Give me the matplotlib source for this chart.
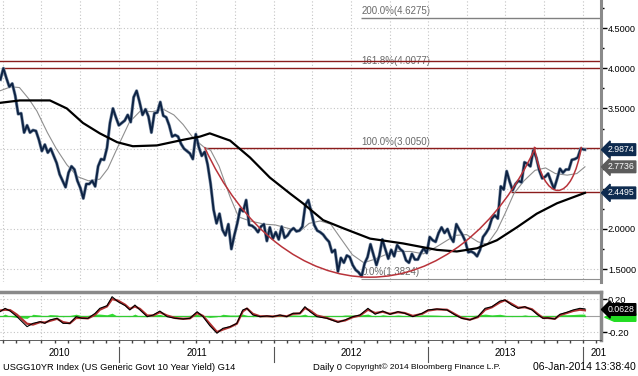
import numpy as np
import pandas as pd
import matplotlib
matplotlib.use('Agg')
import matplotlib.pyplot as plt
import matplotlib.dates as mdates
from matplotlib.patches import Arc, Polygon
from matplotlib.transforms import Affine2D, blended_transform_factory

plt.rcParams['font.family'] = ['Liberation Sans', 'DejaVu Sans']

# weekly closes of the 10y generic yield (Fridays from 26-Mar-2010)
close_2010 = [3.86, 4.00, 3.88, 3.77, 3.81, 3.66, 3.43, 3.44, 3.20, 3.29,
              3.20, 3.23, 3.22, 3.11, 2.97, 3.05, 2.95, 3.00, 2.91, 2.82,
              2.68, 2.60, 2.52, 2.70, 2.78, 2.74, 2.60, 2.51, 2.38, 2.56,
              2.56, 2.60, 2.53, 2.78, 2.87, 2.86, 3.01, 3.32, 3.50, 3.39, 3.29]
close_2011 = [3.32, 3.35, 3.42, 3.33, 3.64, 3.72, 3.58, 3.42, 3.49, 3.40,
              3.20, 3.44, 3.45, 3.58, 3.41, 3.39, 3.29, 3.15, 3.17, 3.15,
              3.06, 3.00, 2.97, 2.94, 2.87, 3.18, 3.02, 2.91, 2.96, 2.80,
              2.56, 2.24, 2.07, 2.19, 1.99, 1.92, 2.06, 1.75, 1.92, 2.07,
              2.25, 2.22, 2.36, 2.05, 2.04, 2.01, 1.96, 2.03, 2.06, 1.85, 2.02, 1.88]
close_2012 = [1.96, 1.87, 2.03, 1.89, 1.92, 1.98, 2.01, 1.97, 1.98, 2.03,
              2.30, 2.36, 2.21, 2.05, 1.98, 1.96, 1.93, 1.88, 1.84, 1.71,
              1.74, 1.47, 1.64, 1.58, 1.67, 1.65, 1.55, 1.49, 1.46, 1.41,
              1.57, 1.65, 1.81, 1.68, 1.55, 1.67, 1.87, 1.75, 1.63, 1.74,
              1.66, 1.80, 1.75, 1.72, 1.61, 1.58, 1.69, 1.62, 1.62, 1.70, 1.76, 1.70]
close_2013 = [1.90, 1.86, 1.84, 1.95, 2.02, 1.95, 2.00, 1.90, 1.84, 2.06,
              1.99, 1.93, 1.85, 1.71, 1.72, 1.70, 1.66, 1.74, 1.90, 1.95,
              2.01, 2.13, 2.17, 2.13, 2.53, 2.49, 2.72, 2.59, 2.48, 2.56,
              2.60, 2.58, 2.83, 2.81, 2.78, 2.98, 2.89, 2.73, 2.63, 2.65,
              2.69, 2.59, 2.50, 2.62, 2.75, 2.70, 2.74, 2.74, 2.86, 2.87, 2.89, 3.00]
close_2014 = [2.99]
last_date = '2014-01-06'
last_close = 2.9874

# moving averages
ma_fast_dates = ['2010-03-25', '2010-04-20', '2010-05-10', '2010-06-01', '2010-06-20',
                 '2010-07-15', '2010-08-05', '2010-08-30', '2010-09-25', '2010-10-20',
                 '2010-11-16', '2010-12-05', '2010-12-31', '2011-01-25', '2011-02-20',
                 '2011-03-20', '2011-04-15', '2011-05-10', '2011-06-01', '2011-06-25',
                 '2011-07-20', '2011-08-05', '2011-08-25', '2011-09-20', '2011-10-10',
                 '2011-11-06', '2011-12-10', '2012-01-05', '2012-02-10', '2012-03-05',
                 '2012-03-25', '2012-04-20', '2012-05-15', '2012-06-08', '2012-07-05',
                 '2012-08-01', '2012-08-25', '2012-10-10', '2012-11-20', '2012-12-20',
                 '2013-01-21', '2013-03-05', '2013-04-01', '2013-04-28', '2013-05-20',
                 '2013-06-12', '2013-07-01', '2013-07-22', '2013-08-15', '2013-09-10',
                 '2013-10-05', '2013-10-28', '2013-11-25', '2013-12-18', '2014-01-06']
ma_fast = [3.72, 3.77, 3.76, 3.62, 3.47, 3.20, 3.00, 2.80, 2.65, 2.60,
           2.62, 2.75, 3.05, 3.33, 3.47, 3.46, 3.49, 3.42, 3.30, 3.13,
           3.02, 2.98, 2.78, 2.40, 2.15, 2.10, 2.06, 2.05, 2.00, 1.98,
           2.07, 2.10, 2.06, 1.88, 1.68, 1.58, 1.62, 1.72, 1.72, 1.69,
           1.78, 1.92, 1.93, 1.84, 1.81, 1.98, 2.19, 2.44, 2.60, 2.73,
           2.76, 2.69, 2.67, 2.69, 2.7736]
ma_slow_dates = ['2010-03-25', '2010-05-11', '2010-07-21', '2010-08-30', '2010-10-07',
                 '2010-11-16', '2010-12-27', '2011-02-02', '2011-03-31', '2011-06-01',
                 '2011-07-11', '2011-08-03', '2011-09-20', '2011-11-06', '2011-12-23',
                 '2012-02-09', '2012-03-10', '2012-04-27', '2012-06-13', '2012-08-16',
                 '2012-11-02', '2013-01-21', '2013-03-09', '2013-04-26', '2013-06-12',
                 '2013-07-29', '2013-09-14', '2013-11-01', '2014-01-06']
ma_slow = [3.57, 3.60, 3.60, 3.50, 3.32, 3.19, 3.08, 3.03, 3.04, 3.11,
           3.15, 3.19, 3.10, 2.89, 2.64, 2.44, 2.32, 2.11, 2.01, 1.88,
           1.82, 1.74, 1.72, 1.76, 1.86, 2.02, 2.19, 2.32, 2.4495]

# oscillator panel
osc_dates = ['2010-03-25', '2010-04-06', '2010-04-18', '2010-05-04', '2010-05-28',
             '2010-06-11', '2010-06-28', '2010-07-09', '2010-07-21', '2010-08-07',
             '2010-08-21', '2010-09-06', '2010-09-21', '2010-10-05', '2010-10-19',
             '2010-11-05', '2010-11-16', '2010-12-03', '2010-12-15', '2010-12-29',
             '2011-01-15', '2011-01-26', '2011-02-07', '2011-02-19', '2011-03-08',
             '2011-03-22', '2011-04-07', '2011-04-24', '2011-05-13', '2011-06-01',
             '2011-06-17', '2011-07-04', '2011-07-18', '2011-08-03', '2011-08-20',
             '2011-09-03', '2011-09-20', '2011-10-06', '2011-10-20', '2011-10-30',
             '2011-11-13', '2011-11-30', '2011-12-16', '2011-12-30', '2012-01-16',
             '2012-02-01', '2012-02-16', '2012-03-03', '2012-03-15', '2012-03-27',
             '2012-04-12', '2012-05-06', '2012-06-01', '2012-06-18', '2012-07-06',
             '2012-07-23', '2012-08-11', '2012-08-28', '2012-09-15', '2012-10-02',
             '2012-10-21', '2012-11-06', '2012-11-25', '2012-12-17', '2012-12-31',
             '2013-01-21', '2013-02-14', '2013-03-05', '2013-03-21', '2013-04-09',
             '2013-04-28', '2013-05-15', '2013-05-31', '2013-06-19', '2013-07-01',
             '2013-07-17', '2013-08-01', '2013-08-17', '2013-09-03', '2013-09-17',
             '2013-09-29', '2013-10-10', '2013-10-27', '2013-11-08', '2013-11-24',
             '2013-12-09', '2013-12-25', '2014-01-06']
osc_fast = [0.046, 0.087, 0.054, -0.014, -0.135, -0.095, -0.075, -0.095, -0.054, -0.034,
            -0.095, -0.095, -0.014, -0.034, -0.034, 0.027, 0.087, 0.119, 0.228, 0.167,
            0.119, 0.067, 0.127, 0.067, -0.014, 0.006, 0.054, -0.014, -0.034, -0.042,
            -0.034, 0.046, -0.014, -0.123, -0.215, -0.155, -0.135, -0.095, 0.067, 0.087,
            0.006, -0.014, -0.006, -0.014, 0.006, -0.014, 0.027, 0.027, 0.107, 0.046,
            -0.014, -0.034, -0.082, -0.054, -0.014, 0.006, 0.087, 0.015, 0.054, 0.015,
            0.046, 0.027, -0.014, 0.027, 0.067, 0.079, 0.067, 0.006, -0.034, -0.054,
            -0.014, 0.087, 0.107, 0.175, 0.188, 0.127, 0.087, 0.107, 0.067, 0.006,
            -0.034, -0.030, -0.042, 0.015, 0.039, 0.067, 0.087, 0.080]
osc_slow = [0.060, 0.070, 0.065, 0.010, -0.100, -0.110, -0.080, -0.085, -0.065, -0.040,
            -0.080, -0.095, -0.030, -0.030, -0.035, 0.010, 0.070, 0.110, 0.200, 0.180,
            0.130, 0.080, 0.110, 0.080, 0.000, 0.000, 0.040, 0.000, -0.030, -0.040,
            -0.035, 0.030, -0.005, -0.100, -0.200, -0.170, -0.140, -0.100, 0.050, 0.085,
            0.020, -0.010, -0.008, -0.012, 0.000, -0.010, 0.020, 0.025, 0.090, 0.060,
            0.000, -0.030, -0.075, -0.060, -0.020, 0.000, 0.070, 0.030, 0.045, 0.020,
            0.040, 0.030, -0.005, 0.020, 0.060, 0.075, 0.070, 0.015, -0.030, -0.050,
            -0.020, 0.070, 0.100, 0.160, 0.185, 0.140, 0.095, 0.100, 0.075, 0.015,
            -0.030, -0.030, -0.040, 0.005, 0.030, 0.055, 0.070, 0.0628]

# fibonacci levels and annotation lines
fib_labels = ['200.0%(4.6275)', '161.8%(4.0077)', '100.0%(3.0050)', '0.0%(1.3824)']
fib_levels = [4.6275, 4.0077, 3.0050, 1.3824]
top_line = 4.09
support_line = 2.46
yticks = [1.5, 2.0, 2.5, 3.0, 3.5, 4.0, 4.5]

navy = '#0d2344'
dkred = '#8b1c1c'
arcred = '#b8333a'
gridc = '#c4c4c4'
spinec = '#8a8a8a'

closes = close_2010 + close_2011 + close_2012 + close_2013 + close_2014
dates = list(pd.date_range('2010-03-26', periods=len(closes), freq='W-FRI'))
dates.append(pd.Timestamp(last_date))
closes = closes + [last_close]
xd = mdates.date2num(dates)

fig = plt.figure(figsize=(6.38, 3.76), dpi=100)
ax = fig.add_axes([0, 94 / 376, 601 / 638, 282 / 376])
ax2 = fig.add_axes([0, 36 / 376, 601 / 638, 48 / 376])

def d(s):
    return mdates.date2num(pd.Timestamp(s))

xmin = d('2010-03-25')
xmax = d('2014-02-13')

# ---- main panel
ax.plot(mdates.date2num(pd.to_datetime(ma_fast_dates)), ma_fast, color='#8f8f8f', lw=0.8, zorder=3)
ax.plot(xd, closes, color='#7d8ea5', lw=2.3, zorder=4)
ax.plot(xd, closes, color=navy, lw=1.4, zorder=4)
ax.plot(mdates.date2num(pd.to_datetime(ma_slow_dates)), ma_slow, color='black', lw=1.6, zorder=5)

ax.axhline(top_line, color=dkred, lw=1.0, zorder=2)
ax.hlines(fib_levels[1], d('2010-04-02'), xmax, color=dkred, lw=1.0, zorder=2)
ax.hlines(fib_levels[2], d('2011-07-22'), xmax, color=dkred, lw=1.0, zorder=2)
ax.hlines(support_line, d('2013-07-15'), xmax, color=dkred, lw=1.0, zorder=2)
ax.hlines(fib_levels[0], d('2012-07-26'), xmax, color='#808080', lw=1.0, zorder=2)
ax.hlines(fib_levels[3], d('2012-07-25'), xmax, color='#909090', lw=0.8, zorder=2)

fib_x = d('2012-07-27')
for lab, lev in zip(fib_labels, fib_levels):
    yy = top_line - 0.005 if lev == fib_levels[1] else lev + 0.02
    va = 'center' if lev == fib_levels[1] else 'bottom'
    ax.text(fib_x, yy, lab, color='#6a6a6a', fontsize=7, va=va, ha='left', zorder=1)

# arcs (bottoming pattern)
big = Arc((0, 0), 2, 2, theta1=214, theta2=326, color=arcred, lw=1.1, zorder=6,
          transform=Affine2D().scale(472, 3.67).translate(d('2012-08-16'), 5.07) + ax.transData)
ax.add_patch(big)
small = Arc((0, 0), 2, 2, theta1=206, theta2=334, color=arcred, lw=1.1, zorder=6,
            transform=Affine2D().scale(62, 0.968).translate(d('2013-11-03'), 3.448) + ax.transData)
ax.add_patch(small)

ax.set_xlim(xmin, xmax)
ax.set_ylim(1.34, 4.85)
ax.yaxis.tick_right()
ax.set_yticks(yticks)
# 2.5 and 3.0 sit behind the value tags
ax.set_yticklabels(['' if v in (2.5, 3.0) else '%.4f' % v for v in yticks])
ax.set_yticks([1.75, 2.25, 2.75, 3.25, 3.75, 4.25, 4.75], minor=True)
ax.tick_params(axis='y', which='major', length=4, width=1, pad=1, labelsize=6.6, colors='black')
ax.tick_params(axis='y', which='minor', length=2.5, width=1, colors='black')
ax.xaxis.set_major_locator(mdates.MonthLocator(bymonth=[1, 4, 7, 10]))
ax.tick_params(axis='x', length=0, labelbottom=False)
ax.grid(True, which='major', color=gridc, ls=(0, (1, 2)), lw=0.8)
for s in ['left', 'top', 'bottom']:
    ax.spines[s].set_visible(False)
ax.spines['right'].set_color(spinec)
ax.spines['right'].set_linewidth(2.2)

ytrans = blended_transform_factory(ax.transAxes, ax.transData)
def tag(axis, trans, y, txt, fc, tc='white'):
    axis.text(1.011, y, txt, transform=trans, ha='left', va='center', fontsize=6.3, color=tc,
              bbox=dict(boxstyle='larrow,pad=0.15', fc=fc, ec=fc), zorder=10, clip_on=False)

tag(ax, ytrans, closes[-1], '%.4f' % closes[-1], '#0e2b4f')
tag(ax, ytrans, ma_fast[-1], '%.4f' % ma_fast[-1], '#5c5c5c')
tag(ax, ytrans, ma_slow[-1], '%.4f' % ma_slow[-1], '#0e2b4f')

# ---- oscillator panel
ox = mdates.date2num(pd.to_datetime(osc_dates))
of = np.array(osc_fast)
osl = np.array(osc_slow)
ax2.axhline(0, color='#a0a0a0', lw=0.8, zorder=1)
ax2.fill_between(ox, 0, of - osl, color='#33dd33', lw=0, zorder=2)
ax2.plot([ox[0], ox[-1]], [0, 0], color='#33cc33', lw=0.9, zorder=2)
ax2.plot(ox, osl, color='#b03030', lw=1.6, zorder=3)
ax2.plot(ox, of, color='black', lw=0.8, zorder=4)
ax2.set_xlim(xmin, xmax)
ax2.set_ylim(-0.297, 0.285)
ax2.yaxis.tick_right()
ax2.set_yticks([-0.2, 0.2])
ax2.set_yticklabels(['-0.20', '0.20'])
ax2.tick_params(axis='y', length=4, width=1, pad=1, labelsize=6.8)
ax2.xaxis.set_major_locator(mdates.MonthLocator(bymonth=[1, 4, 7, 10]))
ax2.xaxis.set_minor_locator(mdates.MonthLocator())
ax2.tick_params(axis='x', which='both', length=2.5, width=1, color='#444444', labelbottom=False)
ax2.grid(True, which='major', color=gridc, ls=(0, (1, 2)), lw=0.8)
ax2.spines['left'].set_visible(False)
ax2.spines['bottom'].set_color('#444444')
ax2.spines['bottom'].set_linewidth(0.6)
for s in ['top', 'right']:
    ax2.spines[s].set_color(spinec)
    ax2.spines[s].set_linewidth(2.5)

# green histogram tag peeking out under the black value tag
otrans = blended_transform_factory(ax2.transAxes, ax2.transData)
green_tag = Polygon([[1.006, -0.02], [1.022, 0.02], [1.058, 0.02], [1.058, -0.07], [1.022, -0.07]],
                    closed=True, fc='#22dd22', ec='#22dd22', transform=otrans,
                    clip_on=False, zorder=9)
ax2.add_patch(green_tag)
tag(ax2, otrans, osc_slow[-1] + 0.01, '%.4f' % osc_slow[-1], 'black')

# year labels and separators
xtrans = blended_transform_factory(ax2.transData, ax2.transAxes)
years = [2010, 2011, 2012, 2013, 2014]
for yr in years:
    a = max(d('%d-01-01' % yr), xmin)
    b = min(d('%d-01-01' % (yr + 1)), xmax)
    if yr == 2014:
        ax2.text(a + 18, -0.27, '201', transform=xtrans, ha='left', va='center', fontsize=7, clip_on=False)
    else:
        ax2.text((a + b) / 2, -0.27, str(yr), transform=xtrans, ha='center', va='center', fontsize=7, clip_on=False)
    if yr > 2010:
        ax2.plot([a, a], [-0.15, -0.46], transform=xtrans, color='#555555', lw=0.8, clip_on=False)

fy = 1 - 367 / 376
fig.text(3 / 638, fy, 'USGG10YR Index (US Generic Govt 10 Year Yield) G14', fontsize=6.7, va='center', ha='left')
fig.text(313 / 638, fy, 'Daily 0', fontsize=6.8, va='center', ha='left')
fig.text(345 / 638, fy, 'Copyright\u00a9 2014 Bloomberg Finance L.P.', fontsize=6.0, va='center', ha='left')
fig.text(636 / 638, fy, '06-Jan-2014 13:38:40', fontsize=7.6, va='center', ha='right')

fig.savefig('out.png', dpi=100, facecolor='white')
